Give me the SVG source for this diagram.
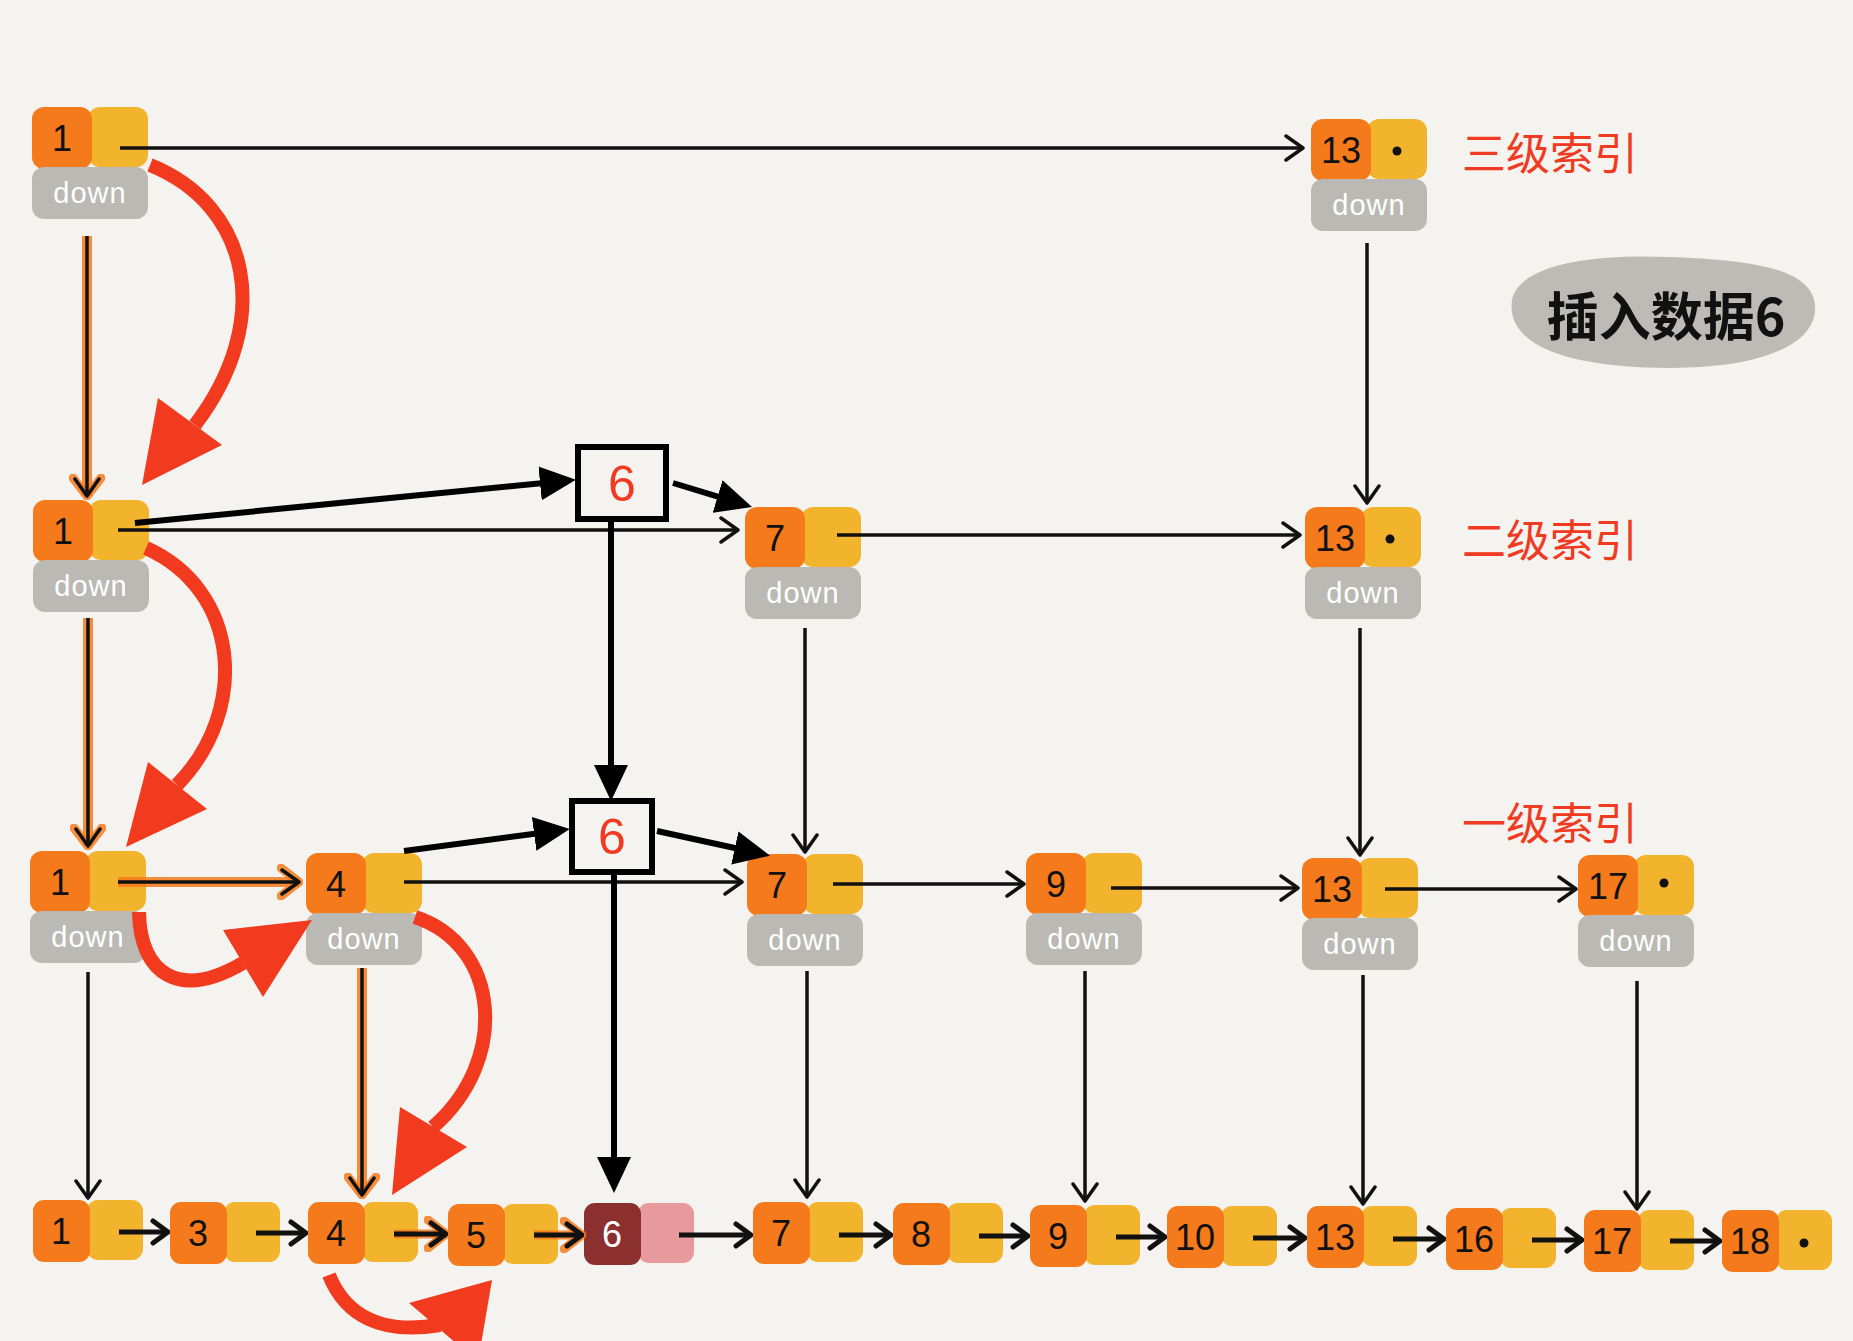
<svg xmlns="http://www.w3.org/2000/svg" xmlns:xlink="http://www.w3.org/1999/xlink" width="1853" height="1341" viewBox="0 0 1853 1341">
<style>
.or{fill:#F47A1C}
.yl{fill:#F2B42C}
.gr{fill:#BBB9B3}
.dn{fill:#FFFFFF;font-family:"Liberation Sans","DejaVu Sans",sans-serif;font-size:29px;text-anchor:middle;letter-spacing:1px}
.num{fill:#111;font-family:"Liberation Sans","DejaVu Sans",sans-serif;font-size:36px;text-anchor:middle}
.lbl{fill:#F03A22;font-family:"Noto Sans CJK SC","Noto Sans",sans-serif;font-size:44px}
.thin{fill:none;stroke:#111;stroke-width:3.5;marker-end:url(#chev)}
.glow{fill:none;stroke:#F47A1C;stroke-width:10;stroke-opacity:0.85;marker-end:url(#chevO)}
.thick{fill:none;stroke:#000;stroke-width:6;marker-end:url(#tri)}
.bar{fill:none;stroke:#111;stroke-width:5;marker-end:url(#chevB)}
.red{fill:none;stroke:#F23A1E;stroke-width:14}
.redh{fill:#F23A1E}
.box{fill:#F4F3EF;stroke:#000;stroke-width:6}
.six{fill:#F03A22;font-family:"Liberation Sans","DejaVu Sans",sans-serif;font-size:50px;text-anchor:middle}
.dot{fill:#111}
</style>
<defs>
<marker id="chev" viewBox="0 0 22 30" refX="20" refY="15" markerWidth="22" markerHeight="30" markerUnits="userSpaceOnUse" orient="auto"><path d="M3,3 L20,15 L3,27" fill="none" stroke="#111" stroke-width="3.5" stroke-linecap="round" stroke-linejoin="round"/></marker>
<marker id="chevO" viewBox="0 0 26 36" refX="22" refY="18" markerWidth="26" markerHeight="36" markerUnits="userSpaceOnUse" orient="auto"><path d="M4,4 L22,18 L4,32" fill="none" stroke="#F47A1C" stroke-opacity="0.85" stroke-width="9" stroke-linecap="round" stroke-linejoin="round"/></marker>
<marker id="chevB" viewBox="0 0 20 28" refX="18" refY="14" markerWidth="20" markerHeight="28" markerUnits="userSpaceOnUse" orient="auto"><path d="M3,3 L18,14 L3,25" fill="none" stroke="#111" stroke-width="5" stroke-linecap="round" stroke-linejoin="round"/></marker>
<marker id="tri" viewBox="0 0 36 34" refX="14" refY="17" markerWidth="36" markerHeight="34" markerUnits="userSpaceOnUse" orient="auto"><path d="M0,0 L36,17 L0,34 Z" fill="#000"/></marker>
<g id="idx">
<rect class="yl" x="56" y="0" width="60" height="60" rx="12"/>
<rect class="or" x="0" y="0" width="60" height="62" rx="12"/>
<rect class="gr" x="0" y="60" width="116" height="52" rx="12"/>
<text class="dn" x="58" y="96">down</text>
</g>
<g id="bot">
<rect class="yl" x="54" y="0" width="56" height="60" rx="11"/>
<rect class="or" x="0" y="0" width="57" height="62" rx="11"/>
</g>
</defs>
<rect x="0" y="0" width="1853" height="1341" fill="#F4F3EF"/>

<!-- labels -->
<g id="labels">
<text class="lbl" x="1462" y="170">三级索引</text>
<text class="lbl" x="1462" y="557">二级索引</text>
<text class="lbl" x="1462" y="840">一级索引</text>
</g>
<g id="note">
<path d="M1512,300 C1520,262 1600,254 1670,257 C1750,260 1812,268 1815,305 C1818,345 1760,368 1670,368 C1580,368 1505,350 1512,300 Z" fill="#BDBBB6"/>
<text x="1666" y="336" font-family="'Noto Sans CJK SC','Noto Sans',sans-serif" font-size="52" font-weight="bold" fill="#111" text-anchor="middle">插入数据6</text>
</g>

<!-- level 3 -->
<g id="l3-1" transform="translate(32,107)"><use xlink:href="#idx"/><text class="num" x="30" y="44">1</text></g>
<g id="l3-13" transform="translate(1311,119)"><use xlink:href="#idx"/><text class="num" x="30" y="44">13</text><circle class="dot" cx="86" cy="32" r="4.5"/></g>

<!-- level 2 -->
<g id="l2-1" transform="translate(33,500)"><use xlink:href="#idx"/><text class="num" x="30" y="44">1</text></g>
<g id="l2-7" transform="translate(745,507)"><use xlink:href="#idx"/><text class="num" x="30" y="44">7</text></g>
<g id="l2-13" transform="translate(1305,507)"><use xlink:href="#idx"/><text class="num" x="30" y="44">13</text><circle class="dot" cx="85" cy="32" r="4.5"/></g>
<g id="l2-new6"><rect class="box" x="578" y="447" width="88" height="72"/><text class="six" x="622" y="501">6</text></g>

<!-- level 1 -->
<g id="l1-1" transform="translate(30,851)"><use xlink:href="#idx"/><text class="num" x="30" y="44">1</text></g>
<g id="l1-4" transform="translate(306,853)"><use xlink:href="#idx"/><text class="num" x="30" y="44">4</text></g>
<g id="l1-7" transform="translate(747,854)"><use xlink:href="#idx"/><text class="num" x="30" y="44">7</text></g>
<g id="l1-9" transform="translate(1026,853)"><use xlink:href="#idx"/><text class="num" x="30" y="44">9</text></g>
<g id="l1-13" transform="translate(1302,858)"><use xlink:href="#idx"/><text class="num" x="30" y="44">13</text></g>
<g id="l1-17" transform="translate(1578,855)"><use xlink:href="#idx"/><text class="num" x="30" y="44">17</text><circle class="dot" cx="86" cy="28" r="4.5"/></g>
<g id="l1-new6"><rect class="box" x="572" y="801" width="80" height="71"/><text class="six" x="612" y="854">6</text></g>

<!-- bottom list -->
<g id="b-1" transform="translate(33,1200)"><use xlink:href="#bot"/><text class="num" x="28" y="44">1</text></g>
<g id="b-3" transform="translate(170,1202)"><use xlink:href="#bot"/><text class="num" x="28" y="44">3</text></g>
<g id="b-4" transform="translate(308,1202)"><use xlink:href="#bot"/><text class="num" x="28" y="44">4</text></g>
<g id="b-5" transform="translate(448,1204)"><use xlink:href="#bot"/><text class="num" x="28" y="44">5</text></g>
<g id="b-6" transform="translate(584,1203)"><rect x="54" y="0" width="56" height="60" rx="11" fill="#E8999B"/><rect x="0" y="0" width="57" height="62" rx="11" fill="#8B2F2F"/><text class="num" x="28" y="44" style="fill:#FFFFFF">6</text></g>
<g id="b-7" transform="translate(753,1202)"><use xlink:href="#bot"/><text class="num" x="28" y="44">7</text></g>
<g id="b-8" transform="translate(893,1203)"><use xlink:href="#bot"/><text class="num" x="28" y="44">8</text></g>
<g id="b-9" transform="translate(1030,1205)"><use xlink:href="#bot"/><text class="num" x="28" y="44">9</text></g>
<g id="b-10" transform="translate(1167,1206)"><use xlink:href="#bot"/><text class="num" x="28" y="44">10</text></g>
<g id="b-13" transform="translate(1307,1206)"><use xlink:href="#bot"/><text class="num" x="28" y="44">13</text></g>
<g id="b-16" transform="translate(1446,1208)"><use xlink:href="#bot"/><text class="num" x="28" y="44">16</text></g>
<g id="b-17" transform="translate(1584,1210)"><use xlink:href="#bot"/><text class="num" x="28" y="44">17</text></g>
<g id="b-18" transform="translate(1722,1210)"><use xlink:href="#bot"/><text class="num" x="28" y="44">18</text><circle class="dot" cx="82" cy="33" r="4.5"/></g>

<!-- connectors -->
<g id="connectors">
<path class="thin" d="M120,148 H1303"/>
<path class="thin" d="M1367,243 V503"/>
<path class="thin" d="M118,530 H738"/>
<path class="thin" d="M837,535 H1300"/>
<path class="thin" d="M805,628 V852"/>
<path class="thin" d="M1360,628 V855"/>
<path class="thin" d="M404,882 H742"/>
<path class="thin" d="M833,884 H1024"/>
<path class="thin" d="M1111,888 H1298"/>
<path class="thin" d="M1385,889 H1576"/>
<path class="thin" d="M88,972 V1198"/>
<path class="thin" d="M807,971 V1197"/>
<path class="thin" d="M1085,971 V1201"/>
<path class="thin" d="M1363,975 V1204"/>
<path class="thin" d="M1637,981 V1209"/>

<path class="glow" d="M87,236 V496"/>
<path class="thin" d="M87,236 V496"/>
<path class="glow" d="M88,618 V846"/>
<path class="thin" d="M88,618 V846"/>
<path class="glow" d="M118,882 H299"/>
<path class="thin" d="M118,882 H299"/>
<path class="glow" d="M362,968 V1195"/>
<path class="thin" d="M362,968 V1195"/>

<path class="thick" d="M135,523 L554,482"/>
<path class="thick" d="M673,483 L731,500.6"/>
<path class="thick" d="M611,519 V779"/>
<path class="thick" d="M404,851 L548,832"/>
<path class="thick" d="M657,831 L748.5,851"/>
<path class="thick" d="M614,872 V1171"/>

<path class="bar" d="M119,1232 H168"/>
<path class="bar" d="M256,1233 H306"/>
<path class="glow" d="M394,1234 H446" style="stroke-width:9"/>
<path class="bar" d="M394,1234 H446"/>
<path class="glow" d="M534,1235 H582" style="stroke-width:9"/>
<path class="bar" d="M534,1235 H582"/>
<path class="bar" d="M679,1235 H751"/>
<path class="bar" d="M839,1235 H891"/>
<path class="bar" d="M979,1236 H1028"/>
<path class="bar" d="M1116,1237 H1165"/>
<path class="bar" d="M1253,1238 H1305"/>
<path class="bar" d="M1393,1239 H1444"/>
<path class="bar" d="M1532,1240 H1582"/>
<path class="bar" d="M1670,1241 H1720"/>

<path class="red" d="M150,165 C250,205 275,320 195,425"/>
<polygon class="redh" points="158,398 222,445 142,485"/>
<path class="red" d="M146,548 C240,590 250,710 177,785"/>
<polygon class="redh" points="148,762 207,809 126,847"/>
<path class="red" d="M139,912 C140,975 180,1000 243,963"/>
<polygon class="redh" points="223,930 312,920 263,997"/>
<path class="red" d="M415,917 C500,945 510,1060 433,1127"/>
<polygon class="redh" points="400,1107 467,1147 392,1195"/>
<path class="red" d="M329,1275 C345,1315 380,1335 440,1325"/>
<polygon class="redh" points="409,1303 492,1280 478,1362"/>
</g>
</svg>
